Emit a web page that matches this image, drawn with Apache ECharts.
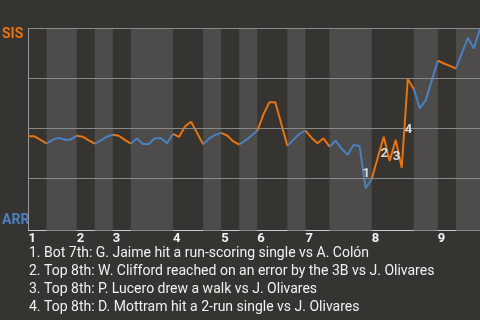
<!DOCTYPE html>
<html>
<head>
<meta charset="utf-8">
<script src="https://cdn.jsdelivr.net/npm/echarts@6/dist/echarts.min.js"></script>
<style>
html,body{margin:0;padding:0;background:#363430;}
#chart{width:480px;height:320px;}
</style>
</head>
<body>
<div id="chart"></div>
<script>
// Win probability (SIS, percent) after each plate appearance
const winProb = [
  46.1,46.1,44.3,42.4,44.3,45.3,44.4,44.4,46.4,45.9,
  44.1,42.4,43.9,45.9,46.9,46.4,44.3,42.4,45.0,42.3,
  42.3,45.1,45.1,42.6,47.3,45.8,51.0,53.4,47.8,42.1,
  44.9,46.8,47.8,46.5,43.6,42.0,43.9,46.4,48.8,56.8,
  63.1,63.1,52.3,41.3,44.3,47.3,48.9,45.4,42.6,45.1,
  40.9,43.9,40.1,36.8,41.8,41.3,20.1,24.6,35.3,45.9,
  33.8,44.3,30.4,74.8,69.8,60.0,64.3,74.3,83.9,82.5,
  81.3,80.0,87.8,95.3,90.0,100
];
// plate-appearance index where each half-inning starts (last = end of game)
const halfInningStarts = [0,3,8,11,14,17,24,29,32,35,38,43,46,50,57,64,68,71,75];
const inningStarts = [0,8,14,24,32,38,46,57,68];
const inningLabels = ['1','2','3','4','5','6','7','8','9'];
const gridValues = [25,50,75,100];
const teamTop = 'SIS';
const teamBottom = 'ARR';
// annotated events: index of PA that ends the event
const eventIndex = [56,59,61,63];
const eventLabels = ['1','2','3','4'];
const eventTexts = [
  '1. Bot 7th: G. Jaime hit a run-scoring single vs A. Colón',
  '2. Top 8th: W. Clifford reached on an error by the 3B vs J. Olivares',
  '3. Top 8th: P. Lucero drew a walk vs J. Olivares',
  '4. Top 8th: D. Mottram hit a 2-run single vs J. Olivares'
];

const ORANGE = '#e8730f';
const BLUE = '#4a80c2';
const BAND = '#4e4c4a';
const FONT = 'Roboto';

const chart = echarts.init(document.getElementById('chart'), null, {renderer:'canvas'});

const bands = [];
for (let h = 1; h < halfInningStarts.length - 1; h += 2) {
  bands.push([{xAxis: halfInningStarts[h], itemStyle:{color: BAND}}, {xAxis: halfInningStarts[h+1]}]);
}

const series = [];
series.push({
  type:'line', data: winProb.map((v,i)=>[i,v]), showSymbol:false, silent:true, z:1,
  lineStyle:{width:0, opacity:0},
  markArea:{silent:true, data: bands}
});
series.push({
  type:'line', data: [], silent:true, z:2,
  markLine:{silent:true, symbol:['none','none'], label:{show:false},
    lineStyle:{color:'#8a8987', width:1, type:'solid'},
    data: gridValues.map(v=>({yAxis:v}))}
});
for (let h = 0; h < halfInningStarts.length - 1; h++) {
  const pts = [];
  for (let i = halfInningStarts[h]; i <= halfInningStarts[h+1]; i++) pts.push([i, winProb[i]]);
  series.push({
    type:'line', data: pts, showSymbol:false, silent:true, z:3,
    lineStyle:{color: h % 2 === 0 ? ORANGE : BLUE, width:2},
    emphasis:{disabled:true}
  });
}
series.push({
  type:'scatter', z:5, silent:true, symbolSize:0.1,
  data: eventIndex.map((e,k)=>({value:[e-0.5,(winProb[e-1]+winProb[e])/2], name:eventLabels[k]})),
  label:{show:true, position:[0,0], align:'left', verticalAlign:'top', formatter:p=>p.name,
    color:'#ffffff', fontWeight:'bold', fontSize:13, fontFamily:FONT}
});

chart.setOption({
  backgroundColor:'#363430',
  animation:false,
  grid:{left:28.5, top:28.5, width:451.5, height:202},
  xAxis:{type:'value', min:0, max:winProb.length-1,
    axisLine:{show:true, onZero:false, lineStyle:{color:'#c9c9c9', width:1}},
    axisTick:{show:false}, splitLine:{show:false},
    axisLabel:{customValues: inningStarts, formatter: v => inningLabels[inningStarts.indexOf(v)],
      align:'left', margin:2, color:'#f2f2f2', fontWeight:'bold', fontSize:13, fontFamily:FONT}
  },
  yAxis:{type:'value', min:-1, max:100,
    axisLine:{show:true, onZero:false, lineStyle:{color:'#9a9a9a', width:1}},
    axisTick:{show:false}, splitLine:{show:false}, axisLabel:{show:false}
  },
  graphic:[
    {type:'text', left:2, top:27, style:{text:teamTop, fill:ORANGE, font:'bold 14px '+FONT}},
    {type:'text', left:2, top:213, style:{text:teamBottom, fill:BLUE, font:'bold 14px '+FONT}},
    {type:'text', left:29, top:244, style:{text:eventTexts.join('\n'), fill:'#f0f0f0', font:'14px '+FONT, lineHeight:18}}
  ],
  series: series
});
</script>
</body>
</html>
